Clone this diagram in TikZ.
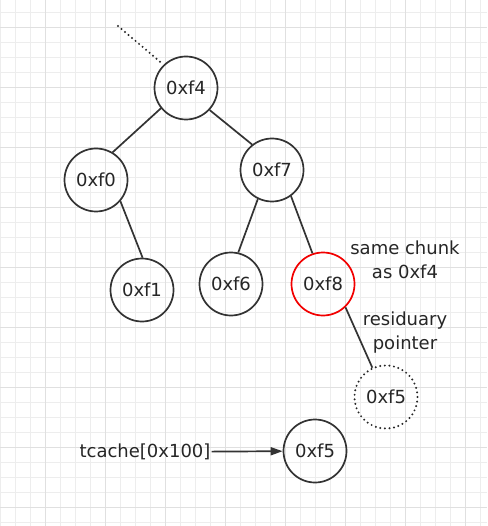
\documentclass[tikz,border=0pt]{standalone}
\usepackage{fontspec}
\setmainfont{DejaVu Sans}
\usetikzlibrary{arrows.meta}

\tikzset{
  chunk/.style={circle, draw=black!80, line width=1.7pt, minimum size=63pt,
    inner sep=0pt, text=black!85, font=\fontsize{18}{22}\selectfont},
  note/.style={align=center, text=black!85, font=\fontsize{18}{24}\selectfont},
  link/.style={draw=black!80, line width=1.7pt},
  dots/.style={line width=2.2pt, line cap=round, dash pattern=on 0pt off 4.6pt},
}

\begin{document}
\begin{tikzpicture}[x=1pt, y=-1pt]
  \useasboundingbox (0,0) rectangle (487,526);
  \fill[white] (0,0) rectangle (487,526);
  % background grid
  \foreach \x in {0.7,15.7,...,487} \draw[black!7, line width=0.8pt] (\x,0) -- (\x,526);
  \foreach \y in {12.3,27.3,...,526} \draw[black!7, line width=0.8pt] (0,\y) -- (487,\y);
  \foreach \x in {45.7,105.7,...,487} \draw[black!12, line width=0.8pt] (\x,0) -- (\x,526);
  \foreach \y in {27.3,87.3,...,526} \draw[black!12, line width=0.8pt] (0,\y) -- (487,\y);

  % tree
  \node[chunk] (f4) at (186,88) {0xf4};
  \node[chunk] (f0) at (96,180) {0xf0};
  \node[chunk] (f7) at (272,170) {0xf7};
  \node[chunk] (f1) at (142,290) {0xf1};
  \node[chunk] (f6) at (231,284) {0xf6};
  \node[chunk, draw=red!95!black] (f8) at (323,284) {0xf8};
  \node[chunk, draw=none] (f5old) at (386,397) {0xf5};
  \draw[dots, black!85] (f5old) circle (31.5);
  \node[chunk] (f5) at (315,451) {0xf5};

  \coordinate (parent) at (118,26);
  \draw[dots, black!85] (parent) -- (f4.134);
  \draw[link] (f4.-141) -- (f0.59);
  \draw[link] (f4.-43) -- (f7.128);
  \draw[link] (f0.-41) -- (f1.89);
  \draw[link] (f7.-116) -- (f6.77);
  \draw[link] (f7.-54) -- (f8.109);
  \draw[link] (f8.-46) -- (f5old.115);

  \node[note] (same) at (405,260) {same chunk\\as 0xf4};
  \node[note] (resid) at (405,333) {residuary\\pointer};

  \node[note, inner sep=1pt] (tc) at (145,452) {tcache[0x100]};
  \draw[link, -{Triangle[length=12pt, width=8pt]}] (tc) -- (f5);
\end{tikzpicture}
\end{document}
